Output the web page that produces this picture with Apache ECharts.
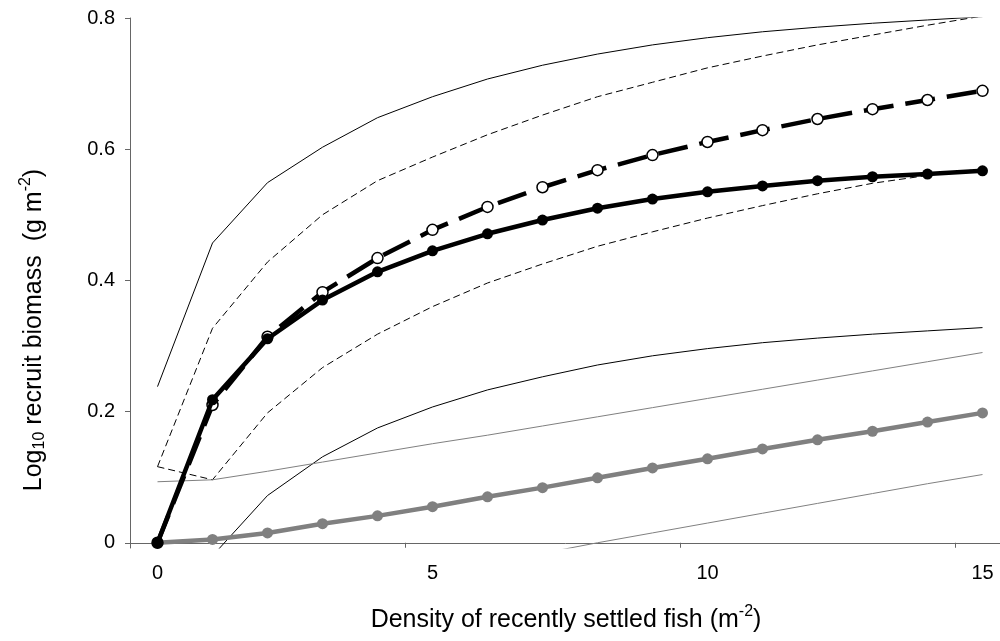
<!DOCTYPE html>
<html>
<head>
<meta charset="utf-8">
<script src="https://cdn.jsdelivr.net/npm/echarts@6/dist/echarts.min.js"></script>
<style>
  html, body { margin: 0; padding: 0; background: #fff; }
  #chart { width: 1000px; height: 641px; }
</style>
</head>
<body>
<div id="chart"></div>
<script>
// Density categories (fish per m²)
const densities = ['0','1','2','3','4','5','6','7','8','9','10','11','12','13','14','15'];
const yTickValues = [0, 0.2, 0.4, 0.6, 0.8];

// Model 1: solid line, filled markers, with its confidence band
const solidMean  = [0, 0.218, 0.311, 0.370, 0.413, 0.445, 0.471, 0.492, 0.510, 0.524, 0.535, 0.544, 0.552, 0.558, 0.562, 0.567];
const solidUpper = [0.238, 0.457, 0.549, 0.603, 0.648, 0.680, 0.707, 0.728, 0.745, 0.759, 0.770, 0.779, 0.786, 0.792, 0.797, 0.802];
const solidLower = [null, -0.020, 0.072, 0.131, 0.175, 0.207, 0.233, 0.253, 0.271, 0.285, 0.296, 0.305, 0.312, 0.318, 0.323, 0.328];

// Model 2: dashed line, open markers, with its confidence band
const dashedMean  = [0, 0.210, 0.314, 0.382, 0.434, 0.477, 0.512, 0.542, 0.568, 0.591, 0.611, 0.629, 0.646, 0.661, 0.675, 0.689];
const dashedUpper = [0.116, 0.327, 0.428, 0.500, 0.552, 0.588, 0.622, 0.652, 0.680, 0.702, 0.724, 0.742, 0.759, 0.774, 0.789, 0.803];
const dashedLower = [0.116, 0.096, 0.198, 0.267, 0.318, 0.360, 0.396, 0.425, 0.452, 0.474, 0.495, 0.514, 0.532, 0.548, 0.560, 0.570];

// Model 3: grey line, grey markers, with its confidence band
const greyMean  = [0, 0.005, 0.015, 0.029, 0.041, 0.055, 0.070, 0.084, 0.099, 0.114, 0.128, 0.143, 0.157, 0.170, 0.184, 0.198];
const greyUpper = [0.093, 0.096, 0.109, 0.123, 0.137, 0.151, 0.164, 0.178, 0.192, 0.206, 0.220, 0.234, 0.248, 0.262, 0.276, 0.290];
const greyLower = [null, null, null, null, null, null, null, -0.016, 0.000, 0.015, 0.030, 0.045, 0.060, 0.075, 0.090, 0.104];

const FONT = '"Liberation Sans", Arial, sans-serif';
const AXIS_COLOR = '#666666';
const GREY = '#808080';

function band(data, color, type) {
  return {
    type: 'line', data: data, showSymbol: false, symbol: 'none',
    lineStyle: { color: color, width: 1, type: type },
    silent: true, z: 2
  };
}

const chart = echarts.init(document.getElementById('chart'), null, { renderer: 'canvas' });

chart.setOption({
  animation: false,
  backgroundColor: '#ffffff',
  // plot area runs a little past the right edge of the page
  grid: { left: 130, width: 880, top: 18, height: 530, containLabel: false, outerBoundsMode: 'none' },
  xAxis: {
    type: 'category',
    data: densities,
    boundaryGap: true,
    axisLine: { onZero: true, lineStyle: { color: AXIS_COLOR, width: 1 } },
    axisTick: { show: true, interval: 4, length: 5, alignWithLabel: false, lineStyle: { color: AXIS_COLOR } },
    axisLabel: { interval: 4, margin: 15, color: '#000', fontSize: 20, fontFamily: FONT },
    splitLine: { show: false }
  },
  yAxis: {
    type: 'value',
    min: -0.008,
    max: 0.8,
    axisLine: { show: true, lineStyle: { color: AXIS_COLOR, width: 1 } },
    axisTick: { show: true, length: 5, customValues: yTickValues, lineStyle: { color: AXIS_COLOR } },
    axisLabel: {
      customValues: yTickValues, margin: 15, color: '#000', fontSize: 20, fontFamily: FONT,
      formatter: v => (Math.abs(v) < 1e-9 ? '0' : v.toFixed(1))
    },
    splitLine: { show: false }
  },
  series: [
    band(solidUpper, '#000', 'solid'),
    band(solidLower, '#000', 'solid'),
    band(dashedUpper, '#000', [7, 4]),
    band(dashedLower, '#000', [7, 4]),
    band(greyUpper, GREY, 'solid'),
    band(greyLower, GREY, 'solid'),
    {
      type: 'line', data: greyMean, symbol: 'circle', symbolSize: 11,
      lineStyle: { color: GREY, width: 4.5 },
      itemStyle: { color: GREY, borderWidth: 0 }, z: 3
    },
    {
      type: 'line', data: dashedMean, symbol: 'circle', symbolSize: 11,
      lineStyle: { color: '#000', width: 4.5, type: [30, 12] },
      itemStyle: { color: '#fff', borderColor: '#000', borderWidth: 1.5 }, z: 4
    },
    {
      type: 'line', data: solidMean, symbol: 'circle', symbolSize: 11,
      lineStyle: { color: '#000', width: 4.5 },
      itemStyle: { color: '#000', borderWidth: 0 }, z: 5
    }
  ],
  graphic: [
    {
      type: 'text', x: 34, y: 330, rotation: Math.PI / 2,
      style: {
        text: '{a|Log}{s|10}{a| recruit biomass  (g m}{p|-2}{a|)}',
        align: 'center', verticalAlign: 'middle', fill: '#000',
        rich: {
          a: { fontSize: 25, fontFamily: FONT, fill: '#000' },
          s: { fontSize: 16, fontFamily: FONT, fill: '#000', padding: [11, 0, 0, 0] },
          p: { fontSize: 16, fontFamily: FONT, fill: '#000', padding: [0, 0, 16, 0] }
        }
      }
    },
    {
      type: 'text', x: 566, y: 620,
      style: {
        text: '{a|Density of recently settled fish (m}{p|-2}{a|)}',
        align: 'center', verticalAlign: 'middle', fill: '#000',
        rich: {
          a: { fontSize: 25, fontFamily: FONT, fill: '#000' },
          p: { fontSize: 16, fontFamily: FONT, fill: '#000', padding: [0, 0, 16, 0] }
        }
      }
    }
  ]
});
</script>
</body>
</html>
